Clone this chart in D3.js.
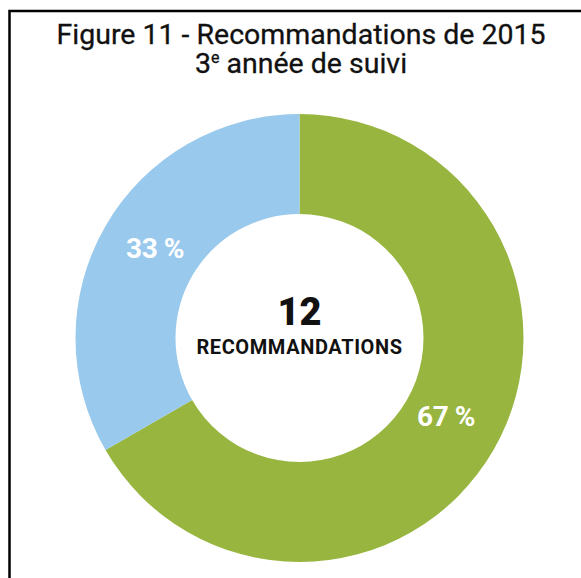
<!DOCTYPE html>
<html>
<head>
<meta charset="utf-8">
<script src="https://cdn.jsdelivr.net/npm/d3@7"></script>
<style>
  body { margin: 0; background: #fff; }
  svg { display: block; font-family: Roboto, "Noto Sans", sans-serif; }
</style>
</head>
<body>
<script>
//data
var categories = ["Appliquées", "Non appliquées"];
var counts = [8, 4];
var labels = ["67 %", "33 %"];
var colors = ["#97b53f", "#99c9ec"];
var total = 12;

//draw the donut once the page loads
window.onload = drawChart();

function drawChart(){
    var width = 581,
        height = 578;

    var svg = d3.select("body")
        .append("svg")
        .attr("width", width)
        .attr("height", height);

    //frame, cut off at the right and bottom
    svg.append("rect")
        .attr("x", 9.5)
        .attr("y", 11)
        .attr("width", 600)
        .attr("height", 600)
        .attr("fill", "none")
        .attr("stroke", "#000")
        .attr("stroke-width", 2.5);

    //title, two lines
    svg.append("text")
        .attr("x", 301)
        .attr("y", 44)
        .attr("text-anchor", "middle")
        .attr("font-size", 28.5)
        .attr("fill", "#111")
        .attr("stroke", "#111")
        .attr("stroke-width", 0.3)
        .text("Figure 11 - Recommandations de 2015");
    var line2 = svg.append("text")
        .attr("x", 301)
        .attr("y", 73)
        .attr("text-anchor", "middle")
        .attr("font-size", 28.5)
        .attr("fill", "#111")
        .attr("stroke", "#111")
        .attr("stroke-width", 0.3);
    line2.append("tspan").text("3");
    line2.append("tspan").attr("font-size", 16).attr("dy", -10).text("e");
    line2.append("tspan").attr("dy", 10).text(" année de suivi");

    var cx = 299.5, cy = 338,
        outer = 224, inner = 124;

    var pie = d3.pie().sort(null);
    var arc = d3.arc().innerRadius(inner).outerRadius(outer);
    var labelArc = d3.arc().innerRadius(168).outerRadius(168);

    var g = svg.append("g")
        .attr("transform", "translate(" + cx + "," + cy + ")");

    var slices = g.selectAll(".slice")
        .data(pie(counts))
        .enter()
        .append("g")
        .attr("class", "slice");

    slices.append("path")
        .attr("d", arc)
        .attr("fill", function(d, i){ return colors[i]; });

    slices.append("text")
        .attr("transform", function(d){
            var c = labelArc.centroid(d);
            return "translate(" + (c[0] + 1) + "," + c[1] + ")";
        })
        .attr("dy", 4)
        .attr("text-anchor", "middle")
        .attr("font-size", 28)
        .attr("font-weight", "bold")
        .attr("letter-spacing", -0.5)
        .attr("fill", "#fff")
        .text(function(d, i){ return labels[i]; });

    //center text
    g.append("text")
        .attr("y", -13)
        .attr("text-anchor", "middle")
        .attr("font-size", 38)
        .attr("font-weight", 900)
        .attr("fill", "#111")
        .text(total);
    g.append("text")
        .attr("y", 16)
        .attr("text-anchor", "middle")
        .attr("font-size", 20)
        .attr("font-weight", "bold")
        .attr("letter-spacing", 0.6)
        .attr("fill", "#111")
        .text("RECOMMANDATIONS");
};
</script>
</body>
</html>
